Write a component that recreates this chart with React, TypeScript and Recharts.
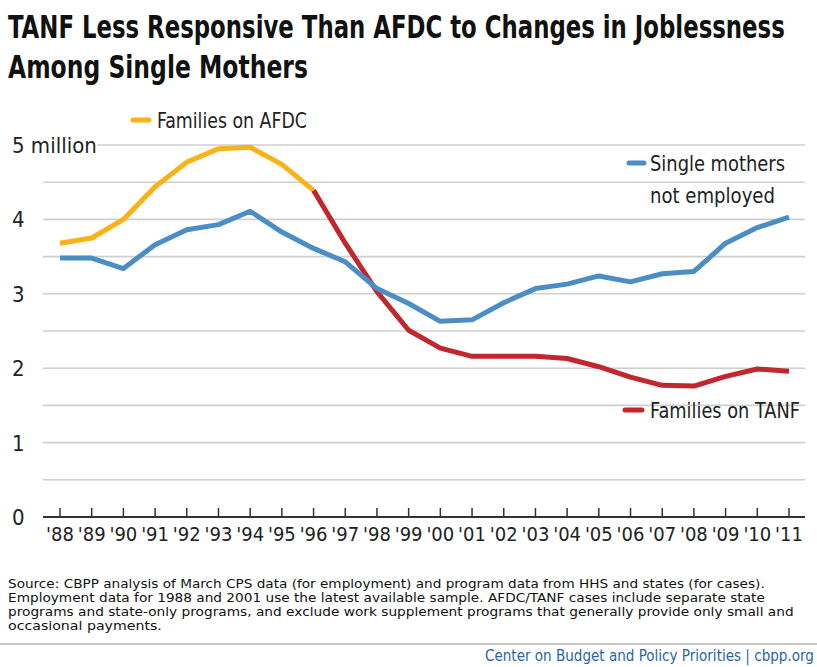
import React, { useLayoutEffect, useRef, useState } from "react";
import { LineChart, Line, XAxis, YAxis, CartesianGrid } from "recharts";

const years = ["'88","'89","'90","'91","'92","'93","'94","'95","'96","'97","'98","'99","'00","'01","'02","'03","'04","'05","'06","'07","'08","'09","'10","'11"];
const afdc = [3.68,3.75,4.0,4.44,4.77,4.95,4.97,4.74,4.39,null,null,null,null,null,null,null,null,null,null,null,null,null,null,null];
const singleMothers = [3.48,3.48,3.34,3.66,3.86,3.93,4.11,3.83,3.61,3.43,3.07,2.87,2.63,2.65,2.88,3.07,3.13,3.24,3.16,3.27,3.3,3.68,3.89,4.03];
const tanf = [null,null,null,null,null,null,null,null,4.39,3.68,3.03,2.51,2.27,2.16,2.16,2.16,2.13,2.02,1.88,1.77,1.76,1.89,1.99,1.96];
const yTicks = [0,0.5,1,1.5,2,2.5,3,3.5,4,4.5,5];

const title1 = "TANF Less Responsive Than AFDC to Changes in Joblessness";
const title2 = "Among Single Mothers";
const notes = [
  "Source:  CBPP analysis of March CPS data (for employment) and program data from HHS and states (for cases).",
  "Employment data for 1988 and 2001 use the latest available sample.  AFDC/TANF cases include separate state",
  "programs and state-only programs, and exclude work supplement programs that generally provide only small and",
  "occasional payments.",
];
const credit = "Center on Budget and Policy Priorities | cbpp.org";

const data = years.map((y, i) => ({ year: y, afdc: afdc[i], single: singleMothers[i], tanf: tanf[i] }));

const FONT = "'Liberation Sans Narrow', 'DejaVu Sans Condensed', 'Roboto Condensed', 'Arial Narrow', 'DejaVu Sans', sans-serif";
const ORANGE = "#fbb217";
const BLUE = "#4b8ec6";
const RED = "#c1272d";
const TOP = 145;

const FitText = (props: any) => {
  const { x, y, width, size, weight, fill, children } = props;
  const ref = useRef<SVGTextElement>(null);
  const [s, setS] = useState(1);
  useLayoutEffect(() => {
    if (ref.current) {
      const w = ref.current.getComputedTextLength();
      if (w > 0) setS(width / w);
    }
  }, [width, children]);
  return (
    <text
      ref={ref}
      x={0}
      y={0}
      transform={`translate(${x},${y}) scale(${s},1)`}
      fontFamily={FONT}
      fontSize={size}
      fontWeight={weight || "normal"}
      fill={fill || "#222"}
    >
      {children}
    </text>
  );
};

const XTick = (props: any) => {
  const { x, y, payload } = props;
  return (
    <g>
      <line x1={x} y1={y} x2={x} y2={y - 9} stroke="#333" strokeWidth={1.5} />
      <text x={x} y={y + 24} textAnchor="middle" fontFamily={FONT} fontSize={20} fill="#222">
        {payload.value}
      </text>
    </g>
  );
};

const YTick = (props: any) => {
  const { y, payload } = props;
  const v = payload.value;
  if (!Number.isInteger(v)) return <g />;
  return (
    <text x={12} y={y + 8} textAnchor="start" fontFamily={FONT} fontSize={22} fill="#222">
      {v === 5 ? "5 million" : String(v)}
    </text>
  );
};

const gridLine = (p: any) => {
  const isTop = Math.abs(p.y1 - TOP) < 1;
  return (
    <line
      key={`g-${p.index}-${p.y1}`}
      x1={isTop ? 97 : p.x1}
      x2={p.x2}
      y1={p.y1}
      y2={p.y2}
      stroke="#cfcfcf"
      strokeWidth={1.6}
    />
  );
};

export default function App() {
  return (
    <div style={{ position: "absolute", left: 0, top: 0, width: 817, height: 667, background: "#fff" }}>
      <LineChart width={817} height={667} data={data} margin={{ top: TOP, right: 12, bottom: 0, left: 0 }}>
        <CartesianGrid vertical={false} horizontal={gridLine} />
        <XAxis
          dataKey="year"
          interval={0}
          height={150}
          padding={{ left: 17, right: 16 }}
          tickSize={0}
          tickMargin={0}
          tickLine={false}
          axisLine={{ stroke: "#333", strokeWidth: 2 }}
          tick={<XTick />}
        />
        <YAxis
          width={43}
          domain={[0, 5]}
          ticks={yTicks}
          interval={0}
          axisLine={false}
          tickLine={false}
          tick={<YTick />}
        />
        <Line dataKey="afdc" stroke={ORANGE} strokeWidth={5} dot={false} isAnimationActive={false} strokeLinejoin="round" />
        <Line dataKey="tanf" stroke={RED} strokeWidth={5} dot={false} isAnimationActive={false} strokeLinejoin="round" />
        <Line dataKey="single" stroke={BLUE} strokeWidth={5} dot={false} isAnimationActive={false} strokeLinejoin="round" />
      </LineChart>
      <svg width={817} height={667} style={{ position: "absolute", left: 0, top: 0, pointerEvents: "none" }}>
        <FitText x={8} y={38} width={777} size={32} weight="bold" fill="#111">{title1}</FitText>
        <FitText x={8} y={78} width={300} size={32} weight="bold" fill="#111">{title2}</FitText>

        <line x1={133} x2={149} y1={120} y2={120} stroke={ORANGE} strokeWidth={5} strokeLinecap="round" />
        <FitText x={157} y={128} width={150} size={22}>Families on AFDC</FitText>

        <line x1={629} x2={644} y1={163} y2={163} stroke={BLUE} strokeWidth={5} strokeLinecap="round" />
        <FitText x={650} y={171} width={135} size={22}>Single mothers</FitText>
        <FitText x={650} y={203} width={125} size={22}>not employed</FitText>

        <line x1={625} x2={642} y1={410} y2={410} stroke={RED} strokeWidth={5} strokeLinecap="round" />
        <FitText x={650} y={418} width={150} size={22}>Families on TANF</FitText>

        <FitText x={8} y={588} width={757} size={12} fill="#111">{notes[0]}</FitText>
        <FitText x={8} y={602} width={757} size={12} fill="#111">{notes[1]}</FitText>
        <FitText x={8} y={616} width={786} size={12} fill="#111">{notes[2]}</FitText>
        <FitText x={8} y={630} width={154} size={12} fill="#111">{notes[3]}</FitText>
        <line x1={0} x2={817} y1={644} y2={644} stroke="#b5b5b5" strokeWidth={1.5} />
        <FitText x={485} y={661} width={329} size={15} fill="#2a64a8">{credit}</FitText>
      </svg>
    </div>
  );
}
